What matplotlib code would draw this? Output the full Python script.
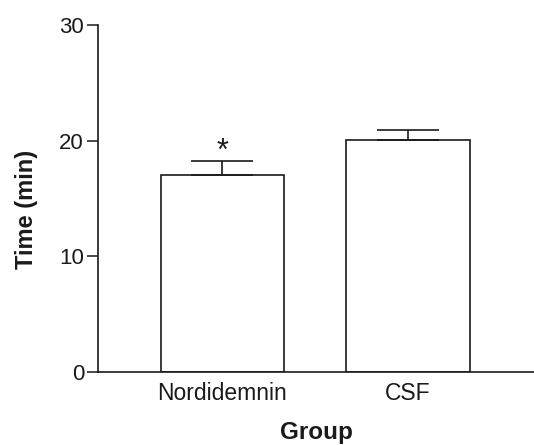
import matplotlib
matplotlib.use("Agg")
import matplotlib.pyplot as plt

groups = ["Nordidemnin", "CSF"]
means = [17.0, 20.1]
sem = [1.2, 0.8]
yticks = [0, 10, 20, 30]

plt.rcParams['font.family'] = ['Liberation Sans', 'DejaVu Sans']

fig = plt.figure(figsize=(5.34, 4.45), dpi=100)
ax = fig.add_axes([98/534, 1-372/445, 1-98/534, (372-25)/445])

x = list(range(len(groups)))
ax.bar(x, means, width=0.664, color='white', edgecolor='#1a1a1a', linewidth=1.2,
       yerr=[[0]*len(sem), sem], capsize=22.5,
       error_kw=dict(ecolor='#1a1a1a', elinewidth=1.2, capthick=1.2), zorder=2)

ax.annotate('*', xy=(x[0], means[0] + sem[0]), xytext=(0, -4), textcoords='offset points',
            ha='center', va='bottom', fontsize=22, color='#1a1a1a')

ax.set_xlim(-0.669, 1.678)
ax.set_ylim(0, 30)
ax.set_yticks(yticks)
ax.set_xticks(x)
ax.set_xticklabels(groups, fontsize=16.5)
ax.tick_params(axis='x', length=0, pad=7, colors='#1a1a1a')
ax.tick_params(axis='y', length=8, width=1.1, pad=2, labelsize=16, colors='#1a1a1a')

for s in ['top', 'right']:
    ax.spines[s].set_visible(False)
for s in ['left', 'bottom']:
    ax.spines[s].set_linewidth(1.2)
    ax.spines[s].set_color('#1a1a1a')

ax.set_ylabel('Time (min)', fontsize=17, fontweight='bold', va='center', color='#1a1a1a')
ax.yaxis.set_label_coords(-0.165, 0.468)
ax.set_xlabel('Group', fontsize=17.5, fontweight='bold', va='center', color='#1a1a1a')
ax.xaxis.set_label_coords(0.5, -0.173)

fig.savefig('out.png', dpi=100)
